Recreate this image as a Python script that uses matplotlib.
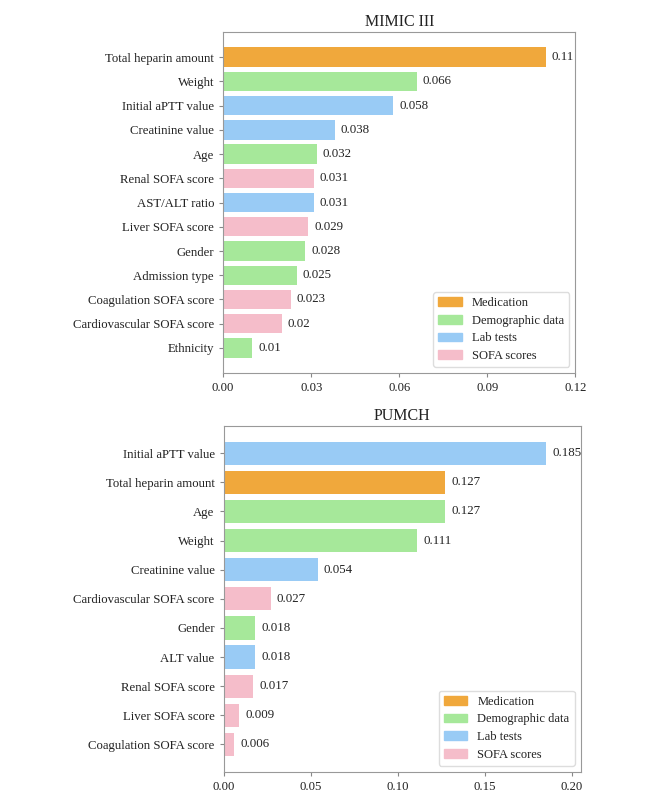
import numpy as np
import matplotlib.pyplot as plt
from matplotlib.patches import Patch

plt.rcParams['font.family'] = ['Liberation Serif', 'DejaVu Serif']

# category -> colour
categories = ['Medication', 'Demographic data', 'Lab tests', 'SOFA scores']
cat_colors = ['#F0A83C', '#A6E89A', '#99CBF5', '#F5BDCA']

mimic_features = ['Total heparin amount', 'Weight', 'Initial aPTT value', 'Creatinine value',
                  'Age', 'Renal SOFA score', 'AST/ALT ratio', 'Liver SOFA score', 'Gender',
                  'Admission type', 'Coagulation SOFA score', 'Cardiovascular SOFA score',
                  'Ethnicity']
mimic_values = [0.11, 0.066, 0.058, 0.038, 0.032, 0.031, 0.031, 0.029, 0.028, 0.025,
                0.023, 0.02, 0.01]
mimic_cats = [0, 1, 2, 2, 1, 3, 2, 3, 1, 1, 3, 3, 1]

pumch_features = ['Initial aPTT value', 'Total heparin amount', 'Age', 'Weight',
                  'Creatinine value', 'Cardiovascular SOFA score', 'Gender', 'ALT value',
                  'Renal SOFA score', 'Liver SOFA score', 'Coagulation SOFA score']
pumch_values = [0.185, 0.127, 0.127, 0.111, 0.054, 0.027, 0.018, 0.018, 0.017, 0.009, 0.006]
pumch_cats = [2, 0, 1, 1, 2, 3, 1, 2, 3, 3, 3]


def importance_plot(ax, title, features, values, cats, xticks, xlim, offset):
    colors = [cat_colors[c] for c in cats]
    y = np.arange(len(features))
    ax.barh(y, values, height=0.8, color=colors)
    ax.set_yticks(y)
    ax.set_yticklabels(features)
    ax.invert_yaxis()
    for yi, v in zip(y, values):
        ax.text(v + offset, yi, str(v), va='center', ha='left', fontsize=9.3, color='#222222')
    ax.set_xlim(0, xlim)
    ax.set_xticks(xticks)
    ax.set_xticklabels(['%.2f' % t for t in xticks])
    ax.set_title(title, fontsize=11.5, color='#222222', pad=4)
    ax.tick_params(labelsize=9.2, colors='#888888', labelcolor='#222222', length=3)
    for s in ax.spines.values():
        s.set_color('#999999')
    handles = [Patch(color=c, label=l) for c, l in zip(cat_colors, categories)]
    leg = ax.legend(handles=handles, loc='lower right', fontsize=9, handlelength=1.9,
                    framealpha=1, edgecolor='#dddddd', labelspacing=0.45)
    for t in leg.get_texts():
        t.set_color('#222222')


fig = plt.figure(figsize=(6.66, 7.99), dpi=100)
ax1 = fig.add_axes([0.335, 0.533, 0.529, 0.427])
ax2 = fig.add_axes([0.336, 0.034, 0.536, 0.433])

importance_plot(ax1, 'MIMIC III', mimic_features, mimic_values, mimic_cats,
                [0, 0.03, 0.06, 0.09, 0.12], 0.12, 0.002)
importance_plot(ax2, 'PUMCH', pumch_features, pumch_values, pumch_cats,
                [0, 0.05, 0.10, 0.15, 0.20], 0.205, 0.0035)

fig.savefig('out.png', dpi=100)
